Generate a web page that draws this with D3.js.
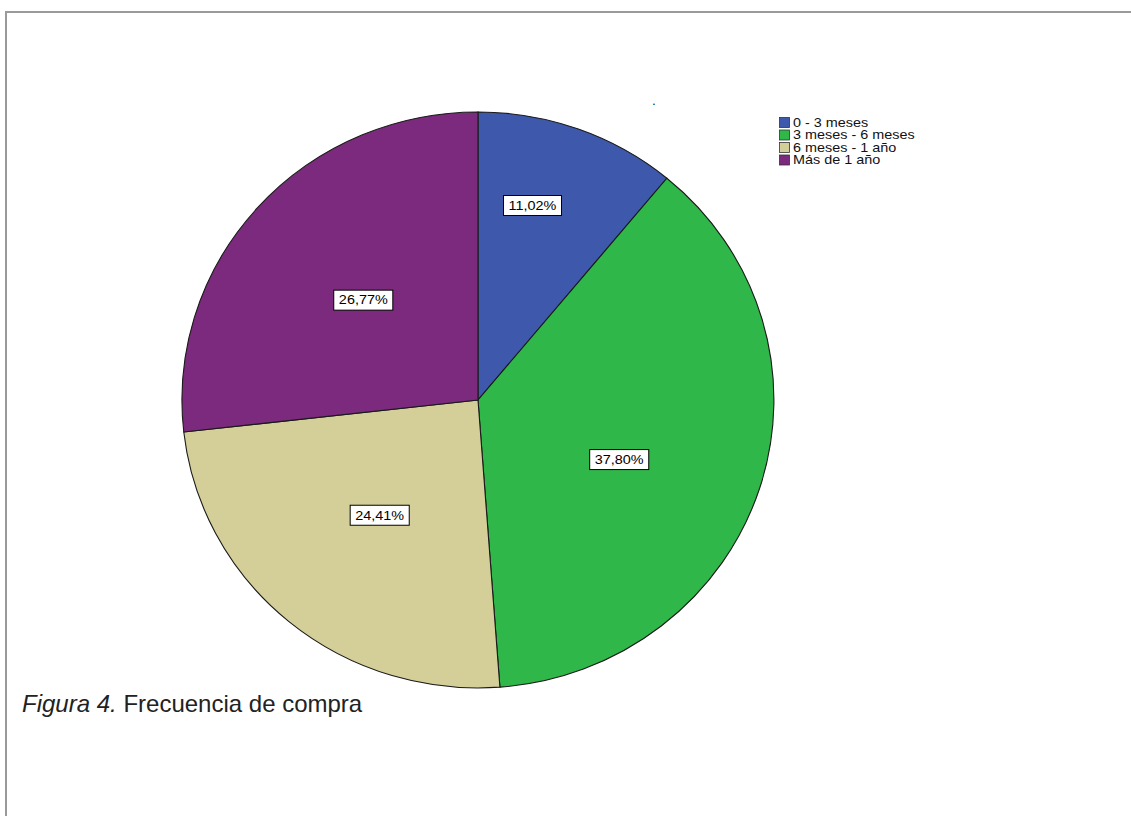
<!DOCTYPE html>
<html>
<head>
<meta charset="utf-8">
<script src="https://cdn.jsdelivr.net/npm/d3@7"></script>
<style>
  html, body { margin: 0; padding: 0; background: #fff; }
  svg { display: block; }
</style>
</head>
<body>
<svg id="chart" width="1131" height="816"></svg>
<script>
// Frecuencia de compra — share of respondents per purchase interval
const categories = ["0 - 3 meses", "3 meses - 6 meses", "6 meses - 1 año", "Más de 1 año"];
const percents = [11.02, 37.80, 24.41, 26.77];
const colors = ["#3e58ac", "#2fb74a", "#d4cf98", "#7b2a7d"];

const W = 1131, H = 816;
const cx = 478, cy = 400, rx = 296, ry = 288;
const FONT = "Arial, 'Liberation Sans', sans-serif";
const stretch = 1.2; // the small chart text is set wide

const svg = d3.select("#chart");

// outer frame
svg.append("rect")
  .attr("x", 6).attr("y", 12)
  .attr("width", W + 10).attr("height", H + 10)
  .attr("fill", "none").attr("stroke", "#9a9a9a").attr("stroke-width", 2);

const pie = d3.pie().sort(null).value(d => d)(percents);
const arc = d3.arc().innerRadius(0).outerRadius(1);

// pie drawn on a unit circle, stretched to the plot's ellipse
const g = svg.append("g")
  .attr("transform", `translate(${cx},${cy}) scale(${rx},${ry})`);

g.selectAll("path")
  .data(pie)
  .join("path")
  .attr("d", arc)
  .attr("fill", (d, i) => colors[i])
  .attr("stroke", "#1a1a1a")
  .attr("stroke-width", 1.1)
  .attr("vector-effect", "non-scaling-stroke");

// value labels inside each slice
const fmt = v => v.toFixed(2).replace(".", ",") + "%";
const labels = svg.append("g");
pie.forEach((d, i) => {
  const span = d.endAngle - d.startAngle;
  const mid = (d.startAngle + d.endAngle) / 2 + (span > 2 ? 0.1 : 0) - (span < 1 ? 0.08 : 0);
  const frac = span < 1 ? 0.7 : 0.52;
  const x = cx + Math.sin(mid) * rx * frac;
  const y = cy - Math.cos(mid) * ry * frac;
  const lg = labels.append("g").attr("transform", `translate(${x},${y})`);
  const t = lg.append("text")
    .attr("text-anchor", "middle")
    .attr("dy", "0.36em")
    .attr("transform", `scale(${stretch},1)`)
    .attr("font-family", FONT)
    .attr("font-size", 12)
    .attr("fill", "#000")
    .text(fmt(percents[i]));
  const bb = t.node().getBBox();
  const bw = bb.width * stretch + 10;
  lg.insert("rect", "text")
    .attr("x", -bw / 2).attr("y", -10)
    .attr("width", bw).attr("height", 20)
    .attr("fill", "#fff").attr("stroke", "#000").attr("stroke-width", 1);
});

// stray title mark
svg.append("text")
  .attr("x", 654).attr("y", 105)
  .attr("text-anchor", "middle")
  .attr("font-family", FONT)
  .attr("font-size", 12)
  .attr("fill", "#000")
  .text(".");

// legend
const legend = svg.append("g").attr("transform", "translate(779,117)");
const rowH = 12.5;
categories.forEach((c, i) => {
  const row = legend.append("g").attr("transform", `translate(0,${i * rowH})`);
  row.append("rect")
    .attr("x", 0.5).attr("y", 0.5).attr("width", 10).attr("height", 10)
    .attr("fill", colors[i]).attr("stroke", "#333").attr("stroke-width", 0.8);
  row.append("text")
    .attr("transform", `translate(14,9.8) scale(${stretch},1)`)
    .attr("font-family", FONT)
    .attr("font-size", 12)
    .attr("fill", "#111")
    .text(c);
});

// caption
const cap = svg.append("text")
  .attr("x", 22).attr("y", 712)
  .attr("font-family", FONT)
  .attr("font-size", 24)
  .attr("fill", "#222");
cap.append("tspan").attr("font-style", "italic").text("Figura 4.");
cap.append("tspan").text(" Frecuencia de compra");
</script>
</body>
</html>
